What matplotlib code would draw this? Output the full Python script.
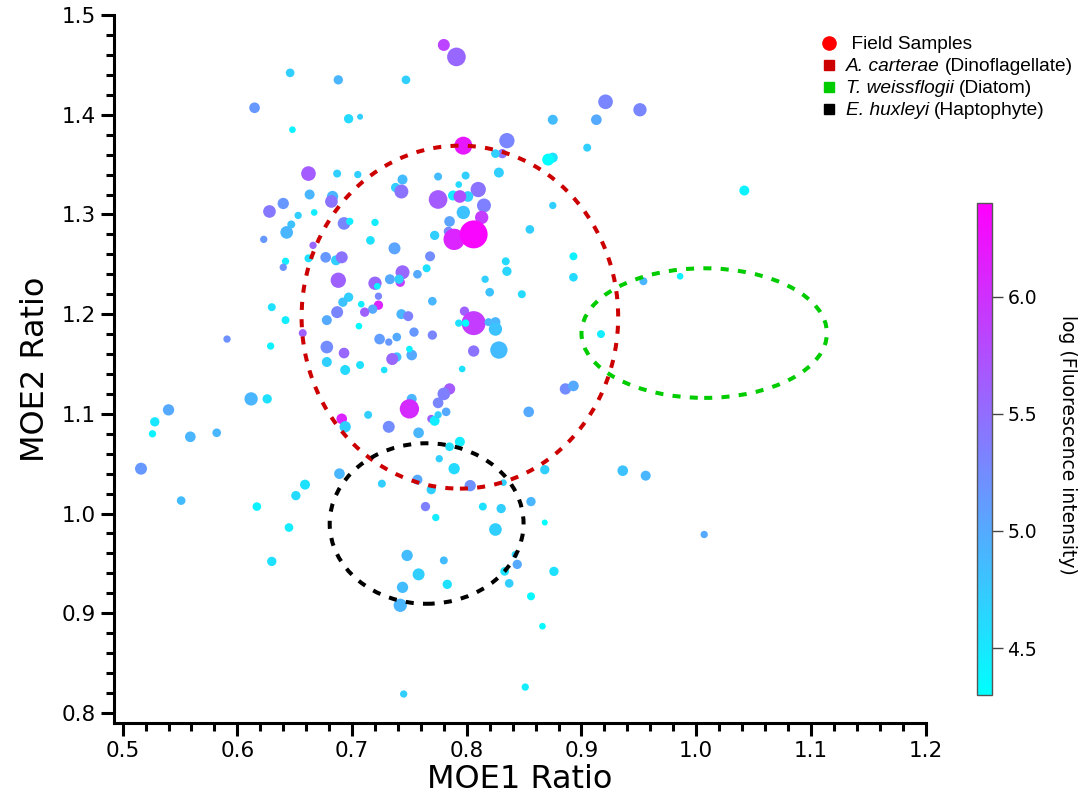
import matplotlib
matplotlib.use('Agg')
import matplotlib.pyplot as plt
from matplotlib.patches import Ellipse
from matplotlib.lines import Line2D
from matplotlib.ticker import MultipleLocator, FormatStrFormatter
from matplotlib.transforms import IdentityTransform
import numpy as np

# field samples: MOE ratios, log fluorescence and relative abundance (marker size)
moe1 = [0.780, 0.791, 0.646, 0.688, 0.747, 0.615, 0.697, 0.707, 0.648, 0.797,
        0.835, 0.831, 0.825, 0.875, 0.871, 0.875, 0.905, 0.828, 0.913, 0.921,
        0.951, 1.042, 0.954, 0.986, 0.917,
        0.662, 0.687, 0.705, 0.775, 0.799, 0.744, 0.738, 0.743, 0.793, 0.810,
        0.788, 0.801, 0.775, 0.794, 0.815, 0.797, 0.813, 0.785, 0.784, 0.772,
        0.789, 0.806,
        0.663, 0.683, 0.682, 0.640, 0.628, 0.653, 0.667, 0.647, 0.643, 0.623,
        0.693, 0.698, 0.720, 0.716, 0.737, 0.768, 0.765, 0.744, 0.757, 0.733,
        0.742, 0.741, 0.720, 0.722, 0.666, 0.642, 0.640, 0.662, 0.677, 0.686,
        0.691, 0.688, 0.723, 0.697, 0.692, 0.708, 0.723, 0.718, 0.711, 0.687,
        0.678, 0.706, 0.630, 0.642, 0.591, 0.629, 0.657, 0.743, 0.749, 0.770,
        0.754, 0.770, 0.724, 0.732, 0.739, 0.798, 0.806, 0.799, 0.793, 0.819,
        0.825, 0.825, 0.828, 0.806, 0.816, 0.834, 0.835, 0.820, 0.848, 0.855,
        0.893, 0.893, 0.875, 0.796, 0.678, 0.693, 0.678, 0.694, 0.707, 0.728,
        0.739, 0.735, 0.752, 0.750,
        0.612, 0.626, 0.540, 0.528, 0.526, 0.559, 0.582, 0.516, 0.551, 0.617,
        0.645, 0.651, 0.659, 0.630, 0.689, 0.691, 0.694, 0.714, 0.732, 0.752,
        0.750, 0.758, 0.769, 0.772, 0.775, 0.782, 0.785, 0.775, 0.780, 0.854,
        0.886, 0.893, 0.794, 0.785, 0.776, 0.789, 0.726, 0.757, 0.769, 0.803,
        0.832, 0.868, 0.764, 0.773, 0.814, 0.830, 0.856, 0.868, 0.825, 0.748,
        0.780, 0.758, 0.744, 0.783, 0.742, 0.842, 0.844, 0.833, 0.837, 0.876,
        0.856, 0.866, 0.745, 0.851, 0.936, 0.956, 1.007]

moe2 = [1.470, 1.458, 1.442, 1.435, 1.435, 1.407, 1.396, 1.398, 1.385, 1.369,
        1.374, 1.361, 1.361, 1.357, 1.355, 1.395, 1.367, 1.342, 1.395, 1.413,
        1.405, 1.324, 1.233, 1.238, 1.180,
        1.341, 1.341, 1.340, 1.338, 1.339, 1.335, 1.327, 1.323, 1.330, 1.325,
        1.319, 1.318, 1.315, 1.318, 1.309, 1.302, 1.297, 1.293, 1.283, 1.279,
        1.275, 1.280,
        1.320, 1.318, 1.313, 1.311, 1.303, 1.299, 1.302, 1.290, 1.282, 1.275,
        1.291, 1.293, 1.292, 1.274, 1.266, 1.258, 1.246, 1.242, 1.240, 1.235,
        1.232, 1.235, 1.231, 1.228, 1.269, 1.253, 1.247, 1.256, 1.257, 1.254,
        1.257, 1.234, 1.218, 1.217, 1.212, 1.210, 1.209, 1.205, 1.202, 1.202,
        1.194, 1.188, 1.207, 1.194, 1.175, 1.168, 1.181, 1.200, 1.198, 1.213,
        1.182, 1.179, 1.175, 1.172, 1.177, 1.203, 1.191, 1.191, 1.191, 1.192,
        1.192, 1.185, 1.164, 1.163, 1.235, 1.253, 1.243, 1.222, 1.220, 1.285,
        1.258, 1.237, 1.309, 1.145, 1.167, 1.161, 1.152, 1.144, 1.149, 1.144,
        1.157, 1.155, 1.159, 1.165,
        1.115, 1.115, 1.104, 1.092, 1.080, 1.077, 1.081, 1.045, 1.013, 1.007,
        0.986, 1.018, 1.029, 0.952, 1.040, 1.095, 1.087, 1.099, 1.087, 1.115,
        1.105, 1.081, 1.095, 1.093, 1.099, 1.102, 1.125, 1.111, 1.120, 1.102,
        1.125, 1.128, 1.072, 1.067, 1.055, 1.045, 1.030, 1.034, 1.024, 1.028,
        1.031, 1.044, 1.007, 0.996, 1.007, 1.005, 1.012, 0.991, 0.984, 0.958,
        0.953, 0.939, 0.926, 0.929, 0.908, 0.959, 0.949, 0.942, 0.930, 0.942,
        0.917, 0.887, 0.819, 0.826, 1.043, 1.038, 0.979]

log_fl = [5.85, 5.55, 4.70, 4.90, 4.70, 5.15, 4.60, 4.70, 4.40, 6.20,
          5.30, 5.45, 4.70, 4.55, 4.30, 4.85, 4.70, 4.70, 5.00, 5.30,
          5.30, 4.40, 4.90, 4.40, 4.45,
          5.65, 4.70, 4.70, 4.85, 4.70, 4.85, 4.70, 5.45, 4.60, 5.45,
          4.45, 4.70, 5.65, 5.75, 5.35, 4.80, 5.90, 5.05, 5.30, 4.70,
          6.10, 6.35,
          4.90, 4.90, 5.45, 5.15, 5.40, 4.70, 4.45, 4.80, 4.90, 5.15,
          5.30, 4.45, 4.45, 4.55, 5.05, 5.25, 4.55, 5.55, 5.00, 5.00,
          5.90, 4.70, 5.55, 4.40, 5.55, 4.45, 5.20, 4.55, 5.15, 4.70,
          5.45, 5.60, 5.30, 4.70, 4.80, 4.45, 6.10, 5.00, 5.60, 5.30,
          5.00, 4.35, 4.55, 4.45, 5.20, 4.40, 5.60, 4.90, 5.35, 4.90,
          5.15, 5.30, 5.10, 5.15, 5.00, 5.60, 5.90, 4.30, 4.55, 4.90,
          4.90, 4.80, 4.85, 5.45, 4.70, 4.60, 4.65, 4.80, 4.60, 4.70,
          4.40, 4.60, 4.70, 4.55, 5.25, 5.55, 4.70, 4.60, 4.55, 4.55,
          4.80, 5.55, 5.00, 4.40,
          4.90, 4.55, 5.00, 4.50, 4.40, 4.90, 4.90, 5.15, 4.85, 4.40,
          4.45, 4.60, 4.55, 4.55, 4.90, 6.10, 4.70, 4.70, 5.25, 4.90,
          6.05, 4.90, 5.60, 4.45, 4.70, 5.00, 5.65, 5.30, 5.35, 5.00,
          5.25, 5.00, 4.45, 4.55, 4.70, 4.60, 4.70, 5.00, 4.70, 5.20,
          4.70, 4.70, 5.35, 4.45, 4.55, 4.70, 4.90, 4.30, 4.70, 4.85,
          4.85, 4.70, 4.85, 4.55, 4.90, 4.65, 5.00, 4.55, 4.70, 4.55,
          4.35, 4.35, 4.70, 4.45, 4.80, 4.90, 5.00]

abundance = [18, 28, 13, 14, 13, 16, 14, 9, 10, 27,
             23, 14, 13, 15, 18, 15, 12, 15, 16, 22,
             20, 15, 12, 10, 12,
             22, 12, 11, 12, 12, 15, 14, 21, 10, 23,
             15, 16, 28, 19, 21, 20, 20, 16, 14, 14,
             32, 42,
             15, 17, 19, 17, 19, 11, 10, 12, 19, 11,
             19, 11, 11, 13, 18, 15, 12, 21, 13, 15,
             14, 14, 20, 10, 11, 11, 11, 12, 16, 15,
             18, 23, 11, 14, 14, 10, 14, 14, 14, 18,
             15, 10, 12, 12, 11, 11, 12, 15, 15, 13,
             14, 14, 16, 11, 13, 14, 36, 11, 11, 12,
             15, 20, 26, 17, 11, 12, 14, 13, 12, 13,
             12, 13, 11, 10, 19, 16, 15, 15, 12, 10,
             14, 18, 16, 10,
             20, 14, 17, 14, 11, 16, 13, 18, 13, 13,
             13, 14, 15, 14, 16, 16, 17, 12, 18, 15,
             29, 16, 12, 15, 11, 13, 17, 16, 19, 16,
             17, 16, 15, 13, 11, 17, 12, 15, 14, 17,
             10, 14, 14, 11, 12, 14, 14, 9, 19, 17,
             12, 18, 17, 14, 20, 10, 14, 13, 13, 14,
             12, 10, 11, 11, 16, 15, 11]

# culture reference regions: centre x, centre y, width, height
species = ['A. carterae', 'T. weissflogii', 'E. huxleyi']
groups = ['(Dinoflagellate)', '(Diatom)', '(Haptophyte)']
region_x = [0.794, 1.007, 0.765]
region_y = [1.197, 1.181, 0.990]
region_w = [0.276, 0.214, 0.169]
region_h = [0.344, 0.130, 0.161]
region_colors = ['#cc0000', '#00cc00', '#000000']

plt.rcParams['font.family'] = 'DejaVu Sans'

fig = plt.figure(figsize=(10.78, 7.96), dpi=100)
ax = fig.add_axes([0.1058, 0.0918, 0.7528, 0.8893])

sizes = 0.23 * np.array(abundance) ** 2
sc = ax.scatter(moe1, moe2, c=log_fl, s=sizes, cmap='cool', vmin=4.3, vmax=6.4,
                linewidths=0, zorder=2)

for cx, cy, w, h, col in zip(region_x, region_y, region_w, region_h, region_colors):
    ax.add_patch(Ellipse((cx, cy), w, h, fill=False, edgecolor=col, lw=2.9,
                         linestyle=(0, (2.0, 2.3)), zorder=3))

ax.set_xlim(0.4925, 1.2)
ax.set_ylim(0.79, 1.5)
ax.xaxis.set_major_locator(MultipleLocator(0.1))
ax.xaxis.set_minor_locator(MultipleLocator(0.02))
ax.yaxis.set_major_locator(MultipleLocator(0.1))
ax.yaxis.set_minor_locator(MultipleLocator(0.02))
ax.xaxis.set_major_formatter(FormatStrFormatter('%.1f'))
ax.yaxis.set_major_formatter(FormatStrFormatter('%.1f'))

for side in ['top', 'right']:
    ax.spines[side].set_visible(False)
for side in ['left', 'bottom']:
    ax.spines[side].set_linewidth(2.2)

ax.tick_params(which='major', direction='out', length=9.5, width=2.2,
               labelsize=15.5, pad=3.5)
ax.tick_params(which='minor', direction='out', length=6, width=2.2)

ax.set_xlabel('MOE1 Ratio', fontsize=23, labelpad=2)
ax.set_ylabel('MOE2 Ratio', fontsize=23, labelpad=8)

# colour scale
cax = fig.add_axes([977 / 1078, 101 / 796, 15 / 1078, 492 / 796])
cb = fig.colorbar(sc, cax=cax)
cb.set_ticks([4.5, 5.0, 5.5, 6.0])
cb.ax.yaxis.set_major_formatter(FormatStrFormatter('%.1f'))
cb.ax.tick_params(length=8, width=1, color='#444444', labelsize=13.5, pad=3)
cb.outline.set_edgecolor('#555555')
cb.outline.set_linewidth(1)
fig.text(1068 / 1078, 1 - 445 / 796, 'log (Fluorescence intensity)',
         rotation=270, ha='center', va='center', fontsize=13.5)

# legend: species names in italics, followed by the group in roman
leg_font = {'family': 'Liberation Sans', 'size': 13.8}
handles = [Line2D([], [], ls='', marker='o', ms=9.5, color='#ff0000')]
handles += [Line2D([], [], ls='', marker='s', ms=7.5, color=c) for c in region_colors]
leg = fig.legend(handles, [' Field Samples'] + species, loc='upper left',
                 bbox_to_anchor=(821 / 1078, 1 - 36 / 796), frameon=False,
                 prop=leg_font, handlelength=0.8, handletextpad=0.5,
                 labelspacing=0.24, borderpad=0, borderaxespad=0)
for t in leg.get_texts()[1:]:
    t.set_fontstyle('italic')

fig.canvas.draw()
renderer = fig.canvas.get_renderer()
for t, grp in zip(leg.get_texts()[1:], groups):
    bb = t.get_window_extent(renderer)
    x0, y0 = t.get_transform().transform(t.get_position())
    fig.text(bb.x1 + 5, y0, grp, transform=IdentityTransform(),
             ha='left', va='baseline', **leg_font)

fig.savefig('out.png', dpi=100)
